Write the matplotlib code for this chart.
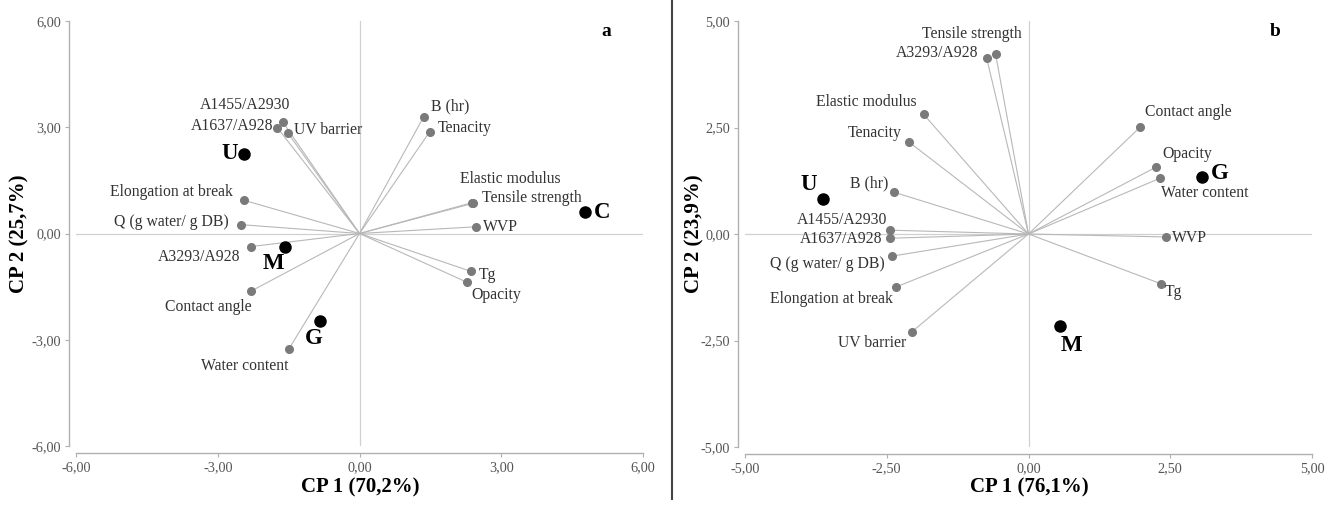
import matplotlib
matplotlib.use("Agg")
import matplotlib.pyplot as plt
from matplotlib.lines import Line2D
from matplotlib.ticker import FuncFormatter

plt.rcParams['font.family'] = ['Liberation Serif', 'DejaVu Serif']

# ---------------- data: panel a ----------------
a_vars = ["A1455/A2930", "A1637/A928", "UV barrier", "Elongation at break",
          "Q (g water/ g DB)", "A3293/A928", "Contact angle", "Water content",
          "B (hr)", "Tenacity", "Elastic modulus", "Tensile strength", "WVP",
          "Tg", "Opacity"]
a_x = [-1.62, -1.74, -1.51, -2.45, -2.51, -2.30, -2.30, -1.49,
       1.36, 1.49, 2.38, 2.40, 2.47, 2.36, 2.28]
a_y = [3.14, 2.99, 2.83, 0.94, 0.25, -0.37, -1.63, -3.25,
       3.30, 2.88, 0.87, 0.85, 0.19, -1.07, -1.38]
a_obs = ["U", "M", "G", "C"]
a_obs_x = [-2.45, -1.57, -0.83, 4.77]
a_obs_y = [2.24, -0.37, -2.46, 0.62]

# ---------------- data: panel b ----------------
b_vars = ["Tensile strength", "A3293/A928", "Elastic modulus", "Tenacity",
          "B (hr)", "A1455/A2930", "A1637/A928", "Q (g water/ g DB)",
          "Elongation at break", "UV barrier", "Contact angle", "Opacity",
          "Water content", "WVP", "Tg"]
b_x = [-0.58, -0.74, -1.85, -2.11, -2.37, -2.45, -2.45, -2.41,
       -2.33, -2.06, 1.97, 2.25, 2.32, 2.43, 2.34]
b_y = [4.22, 4.14, 2.81, 2.16, 0.98, 0.09, -0.10, -0.52,
       -1.24, -2.30, 2.51, 1.57, 1.31, -0.07, -1.17]
b_obs = ["U", "G", "M"]
b_obs_x = [-3.63, 3.06, 0.55]
b_obs_y = [0.81, 1.34, -2.16]

# label placement (pixel offsets, alignment)
a_lab = {
    "A1455/A2930": (7, 17, 'right'), "A1637/A928": (-4, 2, 'right'),
    "UV barrier": (6, 3, 'left'), "Elongation at break": (-11, 8, 'right'),
    "Q (g water/ g DB)": (-12, 3, 'right'), "A3293/A928": (-10, -10, 'right'),
    "Contact angle": (1, -16, 'right'), "Water content": (-1, -17, 'right'),
    "B (hr)": (7, 10, 'left'), "Tenacity": (8, 3, 'left'),
    "Elastic modulus": (-12, 24, 'left'), "Tensile strength": (9, 5, 'left'),
    "WVP": (7, 0, 'left'), "Tg": (8, -4, 'left'), "Opacity": (4, -13, 'left'),
}
a_obs_lab = {"U": (-6, 1, 'right'), "M": (-12, -17, 'center'),
             "G": (-6, -18, 'center'), "C": (9, -1, 'left')}
b_lab = {
    "Tensile strength": (26, 20, 'right'), "A3293/A928": (-8, 5, 'right'),
    "Elastic modulus": (-7, 12, 'right'), "Tenacity": (-7, 9, 'right'),
    "B (hr)": (-6, 9, 'right'), "A1455/A2930": (-2, 10, 'right'),
    "A1637/A928": (-7, -1, 'right'), "Q (g water/ g DB)": (-7, -8, 'right'),
    "Elongation at break": (-4, -12, 'right'), "UV barrier": (-5, -11, 'right'),
    "Contact angle": (5, 15, 'left'), "Opacity": (6, 13, 'left'),
    "Water content": (1, -15, 'left'), "WVP": (6, -1, 'left'),
    "Tg": (4, -8, 'left'),
}
b_obs_lab = {"U": (-14, 15, 'center'), "G": (9, 3, 'left'), "M": (12, -19, 'center')}

W, H = 1337, 507
fig = plt.figure(figsize=(W / 100, H / 100), dpi=100)


def fmt(v, pos):
    return ("%.2f" % v).replace(".", ",")


def panel(rect, lim, ticks, vars_, xs, ys, obs, ox, oy, lab, olab, letter):
    ax = fig.add_axes(rect)
    ax.set_xlim(-lim, lim)
    ax.set_ylim(-lim, lim)
    ax.axhline(0, color='#d0d0d0', lw=0.9, zorder=0)
    ax.axvline(0, color='#d0d0d0', lw=0.9, zorder=0)
    for n, x, y in zip(vars_, xs, ys):
        ax.plot([0, x], [0, y], color='#b8b8b8', lw=0.8, zorder=1)
    ax.plot(xs, ys, 'o', color='#7a7a7a', ms=5.5, zorder=3)
    ax.plot(ox, oy, 'o', color='black', ms=8, zorder=4)
    for n, x, y in zip(vars_, xs, ys):
        dx, dy, ha = lab[n]
        ax.annotate(n, (x, y), xytext=(dx, dy), textcoords='offset pixels',
                    ha=ha, va='center', fontsize=11.3, color='#333333')
    for n, x, y in zip(obs, ox, oy):
        dx, dy, ha = olab[n]
        ax.annotate(n, (x, y), xytext=(dx, dy), textcoords='offset pixels',
                    ha=ha, va='center', fontsize=16.5, fontweight='bold',
                    color='black')
    for s in ['top', 'right']:
        ax.spines[s].set_visible(False)
    for s in ['left', 'bottom']:
        ax.spines[s].set_color('#b0b0b0')
        ax.spines[s].set_linewidth(1.0)
        ax.spines[s].set_position(('outward', 5))
    ax.set_xticks(ticks)
    ax.set_yticks(ticks)
    ax.xaxis.set_major_formatter(FuncFormatter(fmt))
    ax.yaxis.set_major_formatter(FuncFormatter(fmt))
    ax.tick_params(length=3, width=0.8, color='#b0b0b0', labelsize=10.3,
                   labelcolor='#555555', pad=3)
    ax.text(0.935, 0.975, letter, transform=ax.transAxes, fontsize=14,
            fontweight='bold', ha='center', va='center')
    ax.patch.set_alpha(0)
    return ax


axA = panel([76 / W, 1 - 446 / H, 567 / W, 425 / H], 6, [-6, -3, 0, 3, 6],
            a_vars, a_x, a_y, a_obs, a_obs_x, a_obs_y, a_lab, a_obs_lab, 'a')
axB = panel([745 / W, 1 - 447 / H, 567 / W, 426 / H], 5, [-5, -2.5, 0, 2.5, 5],
            b_vars, b_x, b_y, b_obs, b_obs_x, b_obs_y, b_lab, b_obs_lab, 'b')

# axis titles
fig.text(360 / W, 1 - 487 / H, "CP 1 (70,2%)", ha='center', va='center',
         fontsize=15, fontweight='bold')
fig.text(19 / W, 1 - 234 / H, "CP 2 (25,7%)", ha='center', va='center',
         rotation=90, fontsize=15, fontweight='bold')
fig.text(1029 / W, 1 - 487 / H, "CP 1 (76,1%)", ha='center', va='center',
         fontsize=15, fontweight='bold')
fig.text(694 / W, 1 - 234 / H, "CP 2 (23,9%)", ha='center', va='center',
         rotation=90, fontsize=15, fontweight='bold')

# separator
fig.add_artist(Line2D([672 / W, 672 / W], [0.015, 1.0], color='#444444',
                      lw=1.5, transform=fig.transFigure))

fig.savefig("out.png", dpi=100)
